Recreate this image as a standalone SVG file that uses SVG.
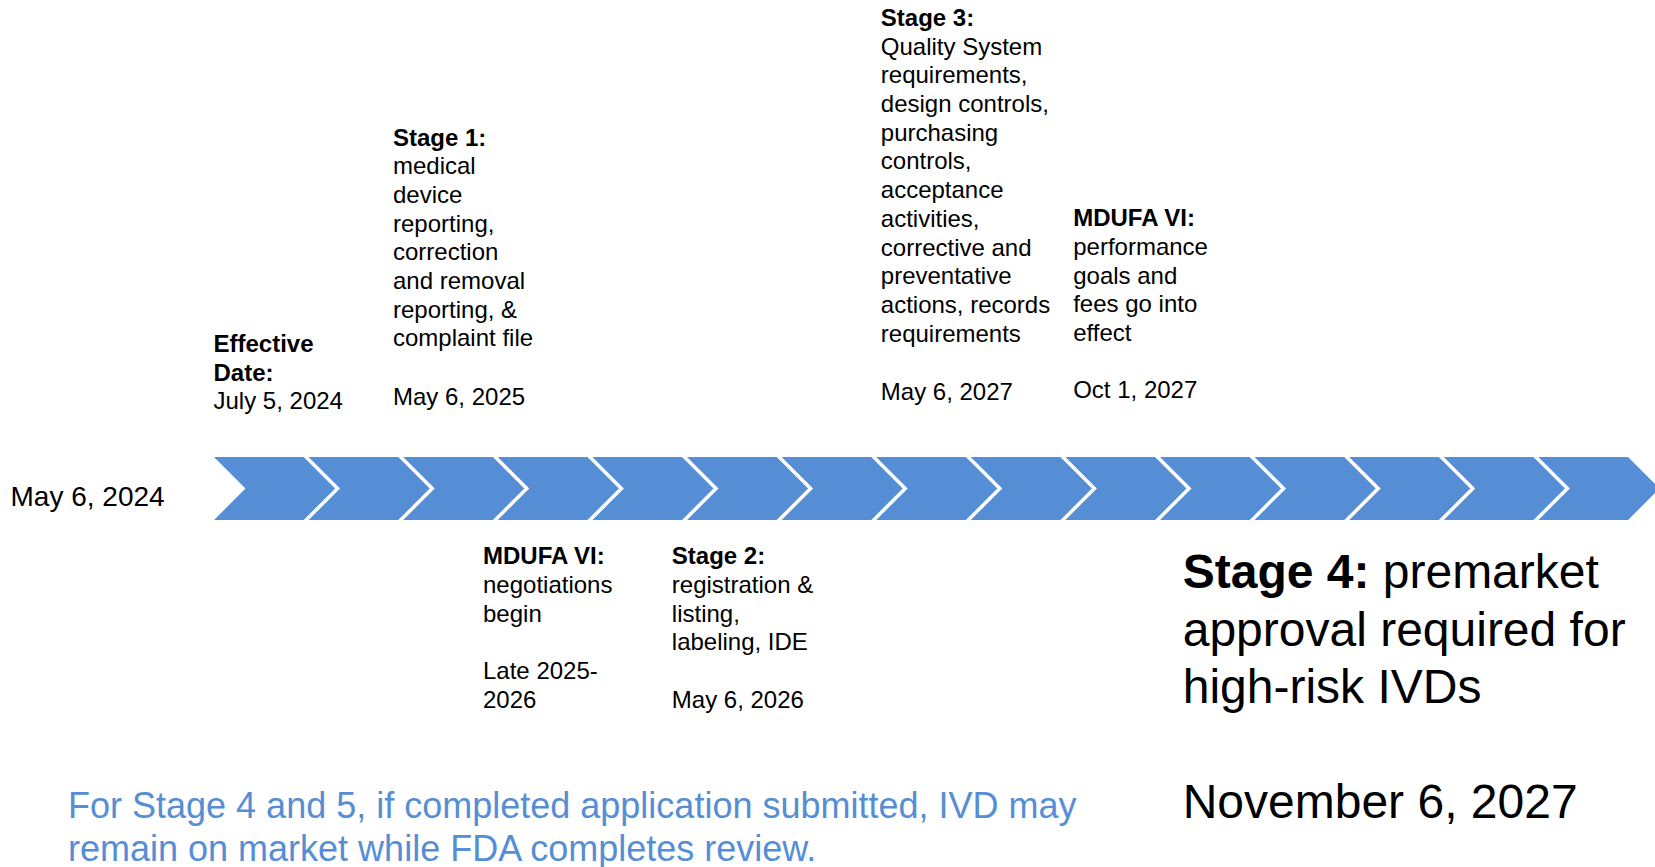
<svg xmlns="http://www.w3.org/2000/svg" width="1655" height="867" viewBox="0 0 1655 867">
<defs>
<style>
text{font-family:"Liberation Sans",Arial,sans-serif;fill:#000}
.t24{font-size:24px}
.b{font-weight:bold}
.chev{fill:#558ED5}
.big{font-size:48px}
.note{font-size:36px;fill:#558ED5}
</style>
<polygon id="chv" class="chev" points="0,457 89.6,457 121.1,488.5 89.6,520 0,520 31.5,488.5"/>
</defs>
<rect width="1655" height="867" fill="#fff"/>
<g id="timeline">
<use href="#chv" x="214"/>
<use href="#chv" x="308.6"/>
<use href="#chv" x="403.2"/>
<use href="#chv" x="497.8"/>
<use href="#chv" x="592.4"/>
<use href="#chv" x="687"/>
<use href="#chv" x="781.6"/>
<use href="#chv" x="876.2"/>
<use href="#chv" x="970.8"/>
<use href="#chv" x="1065.4"/>
<use href="#chv" x="1160"/>
<use href="#chv" x="1254.6"/>
<use href="#chv" x="1349.2"/>
<use href="#chv" x="1443.8"/>
<use href="#chv" x="1538.4"/>
</g>
<g id="connectors"></g>
<g id="start">
<text x="10.5" y="505.5" style="font-size:28px">May 6, 2024</text>
</g>
<g id="effective">
<text class="t24">
<tspan class="b" x="213.5" y="352">Effective</tspan>
<tspan class="b" x="213.5" y="380.6">Date:</tspan>
<tspan x="213.5" y="409.3">July 5, 2024</tspan>
</text>
</g>
<g id="stage1">
<text class="t24">
<tspan class="b" x="393" y="145.5">Stage 1:</tspan>
<tspan x="393" y="174.2">medical</tspan>
<tspan x="393" y="202.9">device</tspan>
<tspan x="393" y="231.6">reporting,</tspan>
<tspan x="393" y="260.3">correction</tspan>
<tspan x="393" y="289">and removal</tspan>
<tspan x="393" y="317.7">reporting, &amp;</tspan>
<tspan x="393" y="346.4">complaint file</tspan>
<tspan x="393" y="404.5">May 6, 2025</tspan>
</text>
</g>
<g id="mdufa-negotiations">
<text class="t24">
<tspan class="b" x="483" y="564.3">MDUFA VI:</tspan>
<tspan x="483" y="593">negotiations</tspan>
<tspan x="483" y="621.7">begin</tspan>
<tspan x="483" y="679">Late 2025-</tspan>
<tspan x="483" y="707.7">2026</tspan>
</text>
</g>
<g id="stage2">
<text class="t24">
<tspan class="b" x="671.8" y="564.3">Stage 2:</tspan>
<tspan x="671.8" y="593">registration &amp;</tspan>
<tspan x="671.8" y="621.7">listing,</tspan>
<tspan x="671.8" y="650.4">labeling, IDE</tspan>
<tspan x="671.8" y="707.7">May 6, 2026</tspan>
</text>
</g>
<g id="stage3">
<text class="t24">
<tspan class="b" x="880.8" y="25.9">Stage 3:</tspan>
<tspan x="880.8" y="54.6">Quality System</tspan>
<tspan x="880.8" y="83.3">requirements,</tspan>
<tspan x="880.8" y="112">design controls,</tspan>
<tspan x="880.8" y="140.7">purchasing</tspan>
<tspan x="880.8" y="169.4">controls,</tspan>
<tspan x="880.8" y="198.1">acceptance</tspan>
<tspan x="880.8" y="226.8">activities,</tspan>
<tspan x="880.8" y="255.5">corrective and</tspan>
<tspan x="880.8" y="284.2">preventative</tspan>
<tspan x="880.8" y="312.9">actions, records</tspan>
<tspan x="880.8" y="341.6">requirements</tspan>
<tspan x="880.8" y="399.5">May 6, 2027</tspan>
</text>
</g>
<g id="mdufa-effect">
<text class="t24">
<tspan class="b" x="1073.2" y="226.3">MDUFA VI:</tspan>
<tspan x="1073.2" y="255">performance</tspan>
<tspan x="1073.2" y="283.7">goals and</tspan>
<tspan x="1073.2" y="312.4">fees go into</tspan>
<tspan x="1073.2" y="341.1">effect</tspan>
<tspan x="1073.2" y="398.3">Oct 1, 2027</tspan>
</text>
</g>
<g id="stage4">
<text class="big">
<tspan x="1182.7" y="588.3"><tspan class="b">Stage 4:</tspan> premarket</tspan>
<tspan x="1182.7" y="645.6">approval required for</tspan>
<tspan x="1182.7" y="702.9">high-risk IVDs</tspan>
<tspan x="1182.7" y="817.5">November 6, 2027</tspan>
</text>
</g>
<g id="footnote">
<text class="note">
<tspan x="68" y="818.3">For Stage 4 and 5, if completed application submitted, IVD may</tspan>
<tspan x="68" y="860.7">remain on market while FDA completes review.</tspan>
</text>
</g>
</svg>
